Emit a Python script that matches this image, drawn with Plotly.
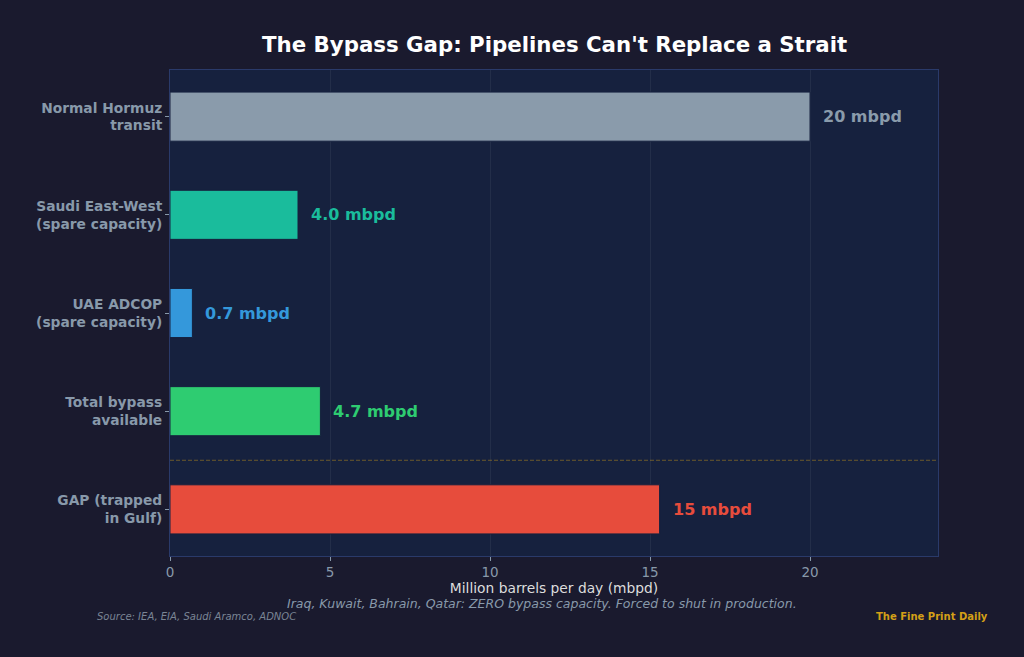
import plotly.graph_objects as go

categories = ["Normal Hormuz<br>transit", "Saudi East-West<br>(spare capacity)",
              "UAE ADCOP<br>(spare capacity)", "Total bypass<br>available", "GAP (trapped<br>in Gulf)"]
values = [20, 4.0, 0.7, 4.7, 15.3]
value_labels = ["20 mbpd", "4.0 mbpd", "0.7 mbpd", "4.7 mbpd", "15 mbpd"]
colors = ["#8a9bab", "#1abc9c", "#3498db", "#2ecc71", "#e74c3c"]
x_ticks = [0, 5, 10, 15, 20]

ypos = list(range(len(categories)))

fig = go.Figure()
fig.add_trace(go.Bar(
    x=values, y=ypos, orientation="h", width=0.5,
    marker=dict(color=colors, line=dict(color="#16213e", width=1)),
    hoverinfo="skip",
))

for i, (v, lab, c) in enumerate(zip(values, value_labels, colors)):
    fig.add_annotation(x=v, y=i, xref="x", yref="y", text=f"<b>{lab}</b>",
                       showarrow=False, xanchor="left", xshift=11,
                       font=dict(color=c, size=16, family="DejaVu Sans"))

fig.add_shape(type="line", xref="paper", x0=0, x1=1, yref="y", y0=3.5, y1=3.5,
              line=dict(color="rgba(212,160,23,0.45)", width=1, dash="4px,2px"))

fig.add_annotation(xref="paper", yref="paper", x=0.5, y=1, yshift=26,
                   text="<b>The Bypass Gap: Pipelines Can't Replace a Strait</b>",
                   showarrow=False, font=dict(color="white", size=21.3, family="DejaVu Sans"),
                   xanchor="center", yanchor="middle")
fig.add_annotation(xref="paper", yref="paper", x=(542 - 170) / 768, y=0, yshift=-47,
                   text="<i>Iraq, Kuwait, Bahrain, Qatar: ZERO bypass capacity. Forced to shut in production.</i>",
                   showarrow=False, font=dict(color="#8899aa", size=12.5, family="DejaVu Sans"),
                   xanchor="center", yanchor="middle")
fig.add_annotation(xref="paper", yref="paper", x=(95 - 170) / 768, y=0, yshift=-60,
                   text="<i>Source: IEA, EIA, Saudi Aramco, ADNOC</i>",
                   showarrow=False, font=dict(color="#7a8595", size=10, family="DejaVu Sans"),
                   xanchor="left", yanchor="middle")
fig.add_annotation(xref="paper", yref="paper", x=(990 - 170) / 768, y=0, yshift=-60,
                   text="<b>The Fine Print Daily</b>",
                   showarrow=False, font=dict(color="#d4a017", size=10, family="DejaVu Sans"),
                   xanchor="right", yanchor="middle")

fig.update_layout(
    width=1024, height=657,
    margin=dict(l=170, r=86, t=70, b=101),
    paper_bgcolor="#1a1a2e", plot_bgcolor="#16213e",
    showlegend=False,
    font=dict(family="DejaVu Sans", color="#8899aa"),
    xaxis=dict(range=[0, 24], tickvals=x_ticks, ticks="outside", ticklen=4,
               tickcolor="#8899aa", tickfont=dict(size=13.5, color="#8899aa"),
               showgrid=True, gridcolor="rgba(255,255,255,0.06)", zeroline=False,
               showline=True, linecolor="#2a3a6a", mirror=True,
               title=dict(text="Million barrels per day (mbpd)", standoff=3,
                          font=dict(size=13.8, color="#dddddd"))),
    yaxis=dict(range=[4.475, -0.475], tickvals=ypos, ticktext=[f"<b>{c}</b>" for c in categories],
               ticks="outside", ticklen=4, tickcolor="#8899aa",
               tickfont=dict(size=13.8, color="#8899aa"), showgrid=False, zeroline=False,
               showline=True, linecolor="#2a3a6a", mirror=True),
)

fig.write_html("out.html")
